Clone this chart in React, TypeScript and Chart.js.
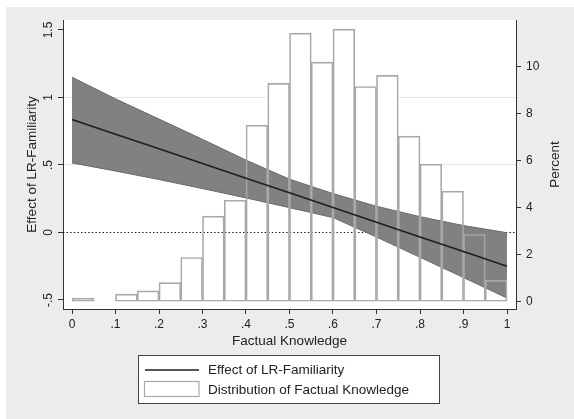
import React, { useEffect, useRef } from 'react';
import { Chart, registerables } from 'chart.js';

Chart.register(...registerables);

// ---- data ----
const knowledgeX = [0, 0.1, 0.2, 0.3, 0.4, 0.5, 0.6, 0.7, 0.8, 0.9, 1];
const effectLR = [0.837, 0.728, 0.62, 0.511, 0.402, 0.294, 0.185, 0.076, -0.033, -0.141, -0.25];
const ciUpper = [1.15, 0.99, 0.84, 0.69, 0.536, 0.395, 0.288, 0.194, 0.117, 0.051, -0.002];
const ciLower = [0.515, 0.455, 0.392, 0.325, 0.256, 0.184, 0.11, -0.034, -0.184, -0.334, -0.486];

const binLower = [0, 0.05, 0.1, 0.15, 0.2, 0.25, 0.3, 0.35, 0.4, 0.45, 0.5, 0.55, 0.6, 0.65, 0.7, 0.75, 0.8, 0.85, 0.9, 0.95];
const binWidth = 0.05;
const percentShare: (number | null)[] = [0.15, null, 0.32, 0.46, 0.81, 1.88, 3.64, 4.32, 7.51, 9.29, 11.43, 10.2, 11.6, 9.16, 9.63, 7.05, 5.85, 4.71, 2.86, 0.91];

const xTicks = [0, 0.1, 0.2, 0.3, 0.4, 0.5, 0.6, 0.7, 0.8, 0.9, 1];
const leftTicks = [-0.5, 0, 0.5, 1, 1.5];
const rightTicks = [0, 2, 4, 6, 8, 10];
const leftGridValues = [0.5, 1];

const xTitle = 'Factual Knowledge';
const leftTitle = 'Effect of LR-Familiarity';
const rightTitle = 'Percent';
const lineLabel = 'Effect of LR-Familiarity';
const histLabel = 'Distribution of Factual Knowledge';

const FONT = '"Liberation Sans", Arial, Helvetica, sans-serif';

const fmt = (v: number) => {
  const r = Number(Number(v).toFixed(2));
  return String(r).replace(/^(-?)0\./, '$1.');
};

const pts = (ys: number[]) => knowledgeX.map((x, i) => ({ x, y: ys[i] }));
const histPts = () =>
  binLower
    .map((b, i) => ({ x: b + binWidth / 2, y: percentShare[i] }))
    .filter((p) => p.y !== null);

export default function App() {
  const ref = useRef<HTMLCanvasElement | null>(null);

  useEffect(() => {
    if (!ref.current) return;

    const decor = {
      id: 'decor',
      beforeDraw(chart: any) {
        const { ctx, chartArea: a } = chart;
        ctx.save();
        ctx.fillStyle = '#ffffff';
        ctx.fillRect(0, 0, chart.width, chart.height);
        ctx.fillStyle = '#ececec';
        ctx.fillRect(6, 7, chart.width - 6, chart.height - 7);
        ctx.fillStyle = '#ffffff';
        ctx.fillRect(a.left, a.top, a.right - a.left, a.bottom - a.top);
        ctx.restore();
      },
      afterDatasetDraw(chart: any, args: any) {
        if (args.index !== 0) return;
        const { ctx, chartArea: a } = chart;
        const y0 = Math.round(chart.scales.y.getPixelForValue(0)) + 0.5;
        ctx.save();
        ctx.strokeStyle = '#111';
        ctx.lineWidth = 1.2;
        ctx.setLineDash([1.4, 2.2]);
        ctx.beginPath();
        ctx.moveTo(a.left, y0);
        ctx.lineTo(a.right, y0);
        ctx.stroke();
        ctx.restore();
      },
      afterDraw(chart: any) {
        const { ctx, chartArea: a } = chart;
        ctx.save();
        ctx.fillStyle = '#222';
        ctx.font = `13.5px ${FONT}`;
        ctx.textBaseline = 'middle';
        ctx.textAlign = 'center';
        const midY = (a.top + a.bottom) / 2;
        ctx.save();
        ctx.translate(32, midY);
        ctx.rotate(-Math.PI / 2);
        ctx.fillText(leftTitle, 0, 0);
        ctx.restore();
        ctx.save();
        ctx.translate(555, midY);
        ctx.rotate(-Math.PI / 2);
        ctx.fillText(rightTitle, 0, 0);
        ctx.restore();
        ctx.fillText(xTitle, (a.left + a.right) / 2, 341);

        const ds = chart.data.datasets;
        ctx.fillStyle = '#ffffff';
        ctx.fillRect(138.5, 355.5, 301, 48);
        ctx.strokeStyle = '#444';
        ctx.lineWidth = 1;
        ctx.strokeRect(138.5, 355.5, 301, 48);

        ctx.strokeStyle = ds[4].borderColor;
        ctx.lineWidth = 1.5;
        ctx.beginPath();
        ctx.moveTo(145, 370);
        ctx.lineTo(199, 370);
        ctx.stroke();

        ctx.fillStyle = '#ffffff';
        ctx.fillRect(144.5, 381.5, 54.5, 15);
        ctx.strokeStyle = ds[3].borderColor;
        ctx.lineWidth = 1.2;
        ctx.strokeRect(144.5, 381.5, 54.5, 15);

        ctx.fillStyle = '#222';
        ctx.textAlign = 'left';
        ctx.fillText(ds[4].label, 208, 370);
        ctx.fillText(ds[3].label, 208, 390.5);
        ctx.restore();
      },
    };

    const chart = new Chart(ref.current, {
      data: {
        datasets: [
          {
            type: 'bar',
            label: 'hist-fill',
            data: histPts() as any,
            xAxisID: 'x',
            yAxisID: 'y2',
            backgroundColor: '#ffffff',
            borderWidth: 0,
            barPercentage: 1,
            categoryPercentage: 1,
            grouped: false,
            order: 4,
          },
          {
            type: 'line',
            label: 'ci-upper',
            data: pts(ciUpper),
            xAxisID: 'x',
            yAxisID: 'y',
            borderColor: '#6a6a6a',
            borderWidth: 1,
            backgroundColor: '#818181',
            fill: '+1',
            pointRadius: 0,
            tension: 0,
            order: 3.2,
          },
          {
            type: 'line',
            label: 'ci-lower',
            data: pts(ciLower),
            xAxisID: 'x',
            yAxisID: 'y',
            borderColor: '#6a6a6a',
            borderWidth: 1,
            fill: false,
            pointRadius: 0,
            tension: 0,
            order: 3.1,
          },
          {
            type: 'bar',
            label: histLabel,
            data: histPts() as any,
            xAxisID: 'x',
            yAxisID: 'y2',
            backgroundColor: 'rgba(255,255,255,0)',
            borderColor: '#a8a8a8',
            borderWidth: 1,
            borderSkipped: false,
            barPercentage: 1,
            categoryPercentage: 1,
            grouped: false,
            order: 2,
          },
          {
            type: 'line',
            label: lineLabel,
            data: pts(effectLR),
            xAxisID: 'x',
            yAxisID: 'y',
            borderColor: '#1e1e1e',
            borderWidth: 1.6,
            fill: false,
            pointRadius: 0,
            tension: 0,
            order: 1,
          },
        ] as any,
      },
      options: {
        animation: false,
        responsive: false,
        maintainAspectRatio: false,
        layout: { padding: { top: 20, bottom: 70, left: 0, right: 0 } },
        plugins: { legend: { display: false }, tooltip: { enabled: false } },
        scales: {
          x: {
            type: 'linear',
            position: 'bottom',
            offset: false,
            min: -9 / 435,
            max: 1 + 9 / 435,
            afterBuildTicks: (s: any) => {
              s.ticks = xTicks.map((v) => ({ value: v }));
            },
            afterFit: (s: any) => {
              s.height = 40;
            },
            ticks: {
              callback: (v: any) => fmt(v),
              font: { size: 12, family: FONT },
              color: '#222',
              padding: 3,
              maxRotation: 0,
              minRotation: 0,
              autoSkip: false,
            },
            grid: { offset: false, drawOnChartArea: false, drawTicks: true, tickLength: 5, tickColor: '#333', tickWidth: 1 },
            border: { display: true, color: '#333', width: 1 },
          },
          y: {
            type: 'linear',
            position: 'left',
            min: -0.567,
            max: 1.574,
            afterBuildTicks: (s: any) => {
              s.ticks = leftTicks.map((v) => ({ value: v }));
            },
            afterFit: (s: any) => {
              s.width = 63;
            },
            ticks: {
              callback: (v: any) => fmt(v),
              font: { size: 12, family: FONT },
              color: '#222',
              padding: 1,
              minRotation: 90,
              maxRotation: 90,
              crossAlign: 'center',
              autoSkip: false,
            },
            grid: {
              drawOnChartArea: true,
              drawTicks: true,
              tickLength: 5,
              tickColor: '#333',
              tickWidth: 1,
              color: (c: any) =>
                c.tick && leftGridValues.includes(Number(Number(c.tick.value).toFixed(2))) ? '#e6e6e6' : 'rgba(0,0,0,0)',
            },
            border: { display: true, color: '#333', width: 1 },
          },
          y2: {
            type: 'linear',
            position: 'right',
            min: -0.31,
            max: 11.99,
            afterBuildTicks: (s: any) => {
              s.ticks = rightTicks.map((v) => ({ value: v }));
            },
            afterFit: (s: any) => {
              s.width = 58;
            },
            ticks: {
              callback: (v: any) => fmt(v),
              font: { size: 12, family: FONT },
              color: '#222',
              padding: 5,
              autoSkip: false,
            },
            grid: { drawOnChartArea: false, drawTicks: true, tickLength: 5, tickColor: '#333', tickWidth: 1 },
            border: { display: true, color: '#333', width: 1 },
          },
        },
      } as any,
      plugins: [decor],
    });

    return () => chart.destroy();
  }, []);

  return (
    <div style={{ position: 'fixed', left: 0, top: 0, width: 574, height: 419, background: '#fff' }}>
      <canvas ref={ref} width={574} height={419} style={{ display: 'block', width: 574, height: 419 }} />
    </div>
  );
}
